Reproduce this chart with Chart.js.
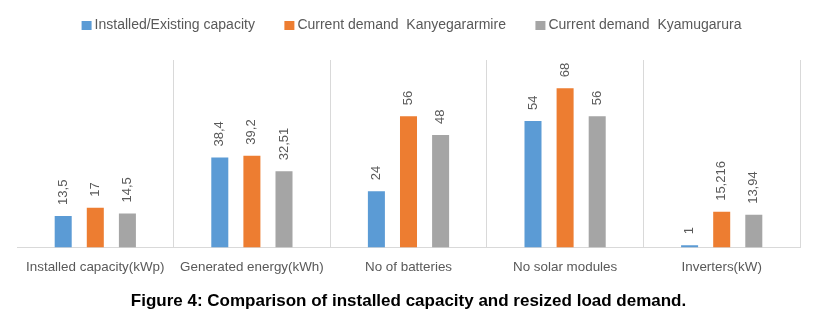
<!DOCTYPE html>
<html>
<head>
<meta charset="utf-8">
<script src="https://cdn.jsdelivr.net/npm/chart.js@4.4.1/dist/chart.umd.min.js"></script>
<style>
  html, body { margin: 0; padding: 0; background: #fff; }
</style>
</head>
<body>
<canvas id="chart" width="832" height="313"></canvas>
<script>
const categories = ["Installed capacity(kWp)", "Generated energy(kWh)", "No of batteries", "No solar modules", "Inverters(kW)"]
const installed = [13.5, 38.4, 24, 54, 1]
const kanyegararmire = [17, 39.2, 56, 68, 15.216]
const kyamugarura = [14.5, 32.51, 48, 56, 13.94]
const seriesNames = ["Installed/Existing capacity", "Current demand  Kanyegararmire", "Current demand  Kyamugarura"]
const seriesColors = ["#5b9bd5", "#ed7d31", "#a5a5a5"]

const FONT = "'Liberation Sans', Arial, sans-serif"

// rotated value labels above each bar, with a comma decimal
const barLabels = {
  id: "barLabels",
  afterDatasetsDraw(chart) {
    const ctx = chart.ctx
    ctx.save()
    ctx.fillStyle = "#595959"
    ctx.font = "13px " + FONT
    ctx.textAlign = "left"
    ctx.textBaseline = "middle"
    chart.data.datasets.forEach((ds, i) => {
      chart.getDatasetMeta(i).data.forEach((bar, j) => {
        let txt = String(ds.data[j]).replace(".", ",")
        ctx.save()
        ctx.translate(bar.x, bar.y - 11)
        ctx.rotate(-Math.PI / 2)
        ctx.fillText(txt, 0, 0)
        ctx.restore()
      })
    })
    ctx.restore()
  }
}

// legend drawn by hand so the item spacing can be wider than the row padding
const wideLegend = {
  id: "wideLegend",
  afterDraw(chart) {
    const ctx = chart.ctx
    const gap = 29.5, box = 10, boxGap = 3
    ctx.save()
    ctx.font = "14px " + FONT
    let items = chart.data.datasets.map(ds => ({
      text: ds.label, color: ds.backgroundColor, w: ctx.measureText(ds.label).width
    }))
    let total = items.reduce((s, it) => s + box + boxGap + it.w, 0) + gap * (items.length - 1)
    let area = chart.chartArea
    let x = (area.left + area.right) / 2 + 3 - total / 2
    let y = 25.5
    ctx.textBaseline = "middle"
    ctx.textAlign = "left"
    items.forEach(it => {
      ctx.fillStyle = it.color
      ctx.fillRect(x, y - 4.5, box, 9)
      ctx.fillStyle = "#595959"
      ctx.fillText(it.text, x + box + boxGap, y)
      x += box + boxGap + it.w + gap
    })
    ctx.restore()
  }
}

const data = {
  labels: categories,
  datasets: [installed, kanyegararmire, kyamugarura].map((vals, i) => ({
    label: seriesNames[i],
    data: vals,
    backgroundColor: seriesColors[i],
    categoryPercentage: 0.615,
    barPercentage: 0.53,
  }))
}

new Chart(document.getElementById("chart"), {
  type: "bar",
  data: data,
  options: {
    responsive: false,
    animation: false,
    layout: { padding: { left: 17, right: 32, top: 60, bottom: 0 } },
    scales: {
      x: {
        grid: {
          color: (c) => c.index === 0 ? "rgba(0,0,0,0)" : "#d9d9d9",
          lineWidth: 1,
          drawTicks: false,
        },
        border: { color: "#d9d9d9" },
        ticks: {
          color: "#595959",
          font: { family: FONT, size: 13.4 },
          padding: 12,
          maxRotation: 0,
        },
      },
      y: {
        display: false,
        min: 0,
        max: 80,
      },
    },
    plugins: {
      legend: { display: false },
      title: {
        display: true,
        position: "bottom",
        text: "Figure 4: Comparison of installed capacity and resized load demand.",
        color: "#000",
        font: { family: FONT, size: 17, weight: "bold" },
        padding: { top: 4, bottom: 1 },
      },
      tooltip: { enabled: false },
    },
  },
  plugins: [barLabels, wideLegend],
})
</script>
</body>
</html>
